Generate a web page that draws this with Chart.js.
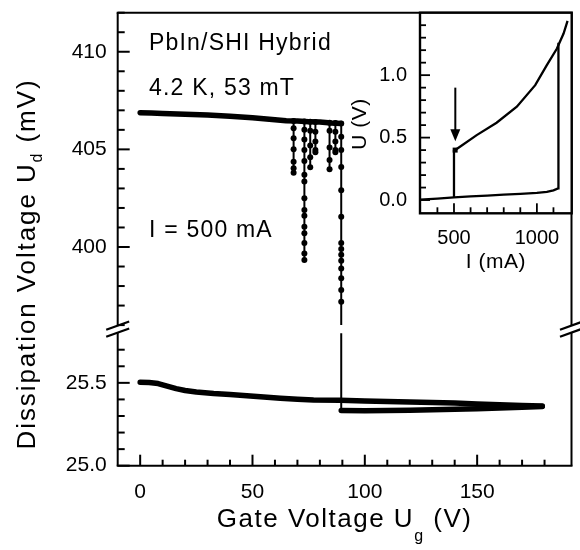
<!DOCTYPE html>
<html><head><meta charset="utf-8">
<script src="https://cdn.jsdelivr.net/npm/chart.js@4.4.0/dist/chart.umd.min.js"></script>
<style>
html,body{margin:0;padding:0;background:#fff;}
#wrap{position:relative;width:580px;height:550px;overflow:hidden;}
#main{position:absolute;left:0;top:0;}
#inset{position:absolute;left:340px;top:0;}
</style></head><body>
<div id="wrap"><canvas id="main" width="580" height="550"></canvas><canvas id="inset" width="240" height="280"></canvas></div>
<script>
const FONT = "'Liberation Sans', Arial, Helvetica, sans-serif";
Chart.defaults.font.family = FONT;
Chart.defaults.color = '#000';

// ---------- main panel: ticks ----------
const gateTicks = [0,10,20,30,40,50,60,70,80,90,100,110,120,130,140,150,160,170,180];
const gateLabels = [0,50,100,150];
const upperTicks = [396,397,398,399,400,401,402,403,404,405,406,407,408,409,410,411,412];
const upperLabels = [400,405,410];
const lowerTicks = [25.0,25.1,25.2,25.3,25.4,25.5,25.6,25.7];
const lowerLabels = [25.0,25.5];

// ---------- main panel: data (Ud in mV vs Ug in V) ----------
const baseX = [0, 5, 10, 20, 30, 40, 50, 60, 65, 70, 75, 80, 85, 89.5];
const baseU = [406.88, 406.86, 406.84, 406.80, 406.76, 406.70, 406.62, 406.52, 406.47, 406.45, 406.42, 406.40, 406.35, 406.33];
const dipX = [68.3, 73.1, 75.7, 78.0, 84.3, 86.9, 89.5];
const dipU = [
  [406.45, 406.08, 405.57, 405.0, 404.37, 404.03, 403.8],
  [406.43, 406.0, 405.5, 404.97, 404.4, 403.7, 403.35, 402.5, 401.9, 401.6, 401.04, 400.7, 400.2, 399.67, 399.33],
  [406.42, 405.95, 405.2, 404.6, 404.08],
  [406.4, 405.9, 405.4, 404.97, 404.85],
  [406.36, 405.95, 405.1, 404.45, 403.98],
  [406.35, 405.9, 405.4, 404.97, 404.85],
  [406.33, 405.65, 404.97, 404.1, 402.9, 401.55, 400.2, 399.9, 399.6, 399.3, 398.9, 398.4, 397.8, 397.2]
];
const dropTailX = [89.5, 89.5];
const dropTailU = [397.2, 396.0];
const jumpX = [89.5, 89.5];
const jumpU = [25.80, 25.333];
const lowUpX = [0, 4, 8, 12, 16, 20, 25, 32.7, 40, 47.5, 55, 62.4, 70, 77.2, 89, 100, 110, 120, 130, 140, 150, 160, 170, 179];
const lowUpU = [25.503, 25.502, 25.496, 25.48, 25.465, 25.454, 25.445, 25.436, 25.43, 25.422, 25.414, 25.407, 25.401, 25.397, 25.395, 25.39, 25.387, 25.385, 25.382, 25.378, 25.373, 25.368, 25.364, 25.36];
const lowDownX = [89.5, 100, 110, 120, 130, 140, 150, 160, 170, 179];
const lowDownU = [25.333, 25.332, 25.333, 25.335, 25.337, 25.34, 25.343, 25.348, 25.353, 25.358];

// ---------- inset: I-V curve ----------
const insetITicks = [400,500,600,700,800,900,1000,1100];
const insetILabels = [500,1000];
const insetUTicks = [0.0,0.1,0.2,0.3,0.4,0.5,0.6,0.7,0.8,0.9,1.0,1.1,1.2,1.3,1.4];
const insetULabels = [0.0,0.5,1.0];
const ivLowI = [295, 400, 500, 600, 700, 800, 900, 1000, 1060, 1100, 1128, 1130];
const ivLowU = [0.004, 0.012, 0.021, 0.029, 0.036, 0.043, 0.05, 0.058, 0.066, 0.078, 0.093, 1.26];
const ivUpI = [500, 500, 512, 536, 637, 757, 879, 990, 1060, 1121, 1161, 1185];
const ivUpU = [0.021, 0.395, 0.405, 0.427, 0.52, 0.619, 0.747, 0.92, 1.08, 1.213, 1.333, 1.434];
const markerPt = [507, 0.40];
const arrowI = 508, arrowFrom = 0.90, arrowTo = 0.47;

// ---------- helpers ----------
const pts = (xs, ys) => xs.map((x, i) => ({x, y: ys[i]}));
const near = (arr, v) => arr.some(q => Math.abs(q - v) < 1e-6);
function setTicks(list){ return s => { s.ticks = list.map(v => ({value: v})); }; }
function fitFix(w, h){ return s => { if (w !== null) s.width = w; if (h !== null) s.height = h; s.paddingTop = 0; s.paddingBottom = 0; s.paddingLeft = 0; s.paddingRight = 0; }; }
function seg(ctx, x1, y1, x2, y2){ ctx.beginPath(); ctx.moveTo(x1, y1); ctx.lineTo(x2, y2); ctx.stroke(); }
function drawParts(ctx, parts, x, y, align, spacing){
  ctx.save();
  try { ctx.letterSpacing = spacing + 'px'; } catch(e) {}
  const ws = parts.map(p => { ctx.font = p[1] + 'px ' + FONT; return ctx.measureText(p[0]).width; });
  const total = ws.reduce((s, b) => s + b, 0);
  let cx = align === 'center' ? x - total / 2 : x;
  ctx.textAlign = 'left'; ctx.textBaseline = 'alphabetic'; ctx.fillStyle = '#000';
  parts.forEach((p, i) => { ctx.font = p[1] + 'px ' + FONT; ctx.fillText(p[0], cx, y + (p[2] || 0)); cx += ws[i]; });
  ctx.restore();
}

const dipPts = [];
dipX.forEach((x, i) => { dipU[i].forEach(u => dipPts.push({x, y: u})); dipPts.push({x, y: null}); });

const thick = {borderColor:'#000', borderWidth:5.5, pointRadius:0, borderCapStyle:'round', borderJoinStyle:'round', tension:0};
const thin = {borderColor:'#000', borderWidth:2, pointRadius:0, tension:0};

const mainDeco = {
  id: 'mainDeco',
  afterDraw(chart){
    const ctx = chart.ctx, A = chart.chartArea, sc = chart.scales;
    const yT = sc.yTop, yL = sc.yLow, xs = sc.x;
    const mid = (yT.getPixelForValue(396) + yL.getPixelForValue(25.8)) / 2;
    ctx.save();
    ctx.strokeStyle = '#000'; ctx.lineCap = 'butt'; ctx.lineWidth = 2;
    seg(ctx, A.left - 1, A.top, A.right + 1, A.top);
    seg(ctx, A.left - 1, A.bottom, A.right + 1, A.bottom);
    for (const xx of [A.left, A.right]) { seg(ctx, xx, A.top, xx, mid - 3.5); seg(ctx, xx, mid + 3.5, xx, A.bottom); }
    for (const v of upperTicks) { const p = yT.getPixelForValue(v); const L = near(upperLabels, v) ? 12 : 7; seg(ctx, A.left, p, A.left + L, p); }
    for (const v of lowerTicks) { const p = yL.getPixelForValue(v); const L = near(lowerLabels, v) ? 12 : 7; seg(ctx, A.left, p, A.left + L, p); }
    for (const v of gateTicks) { const p = xs.getPixelForValue(v); const L = near(gateLabels, v) ? 11 : 6; seg(ctx, p, A.bottom, p, A.bottom - L); }
    ctx.lineWidth = 2.3;
    for (const xx of [A.left, A.right]) for (const d of [-3.5, 3.5]) seg(ctx, xx - 11.5, mid + d + 4.15, xx + 11.5, mid + d - 4.15);
    ctx.restore();
    drawParts(ctx, [['PbIn/SHI Hybrid', 23]], 149, 50, 'left', 1.2);
    drawParts(ctx, [['4.2 K, 53 mT', 23]], 149, 95, 'left', 1.2);
    drawParts(ctx, [['I = 500 mA', 23]], 149, 237, 'left', 1.2);
    drawParts(ctx, [['Gate Voltage U', 26], ['g', 16, 14], [' (V)', 26]], (A.left + A.right) / 2, 527, 'center', 1.5);
    ctx.save();
    ctx.translate(35, 264);
    ctx.rotate(-Math.PI / 2);
    drawParts(ctx, [['Dissipation Voltage U', 26], ['d', 16, 7], [' (mV)', 26]], 0, 0, 'center', 1.9);
    ctx.restore();
  }
};

new Chart(document.getElementById('main'), {
  type: 'line',
  data: { datasets: [
    Object.assign({data: pts(baseX, baseU), yAxisID: 'yTop'}, thick),
    {data: dipPts, yAxisID: 'yTop', borderColor:'#000', borderWidth:2, pointRadius:3, pointBackgroundColor:'#000', pointBorderWidth:0, spanGaps:false, tension:0},
    Object.assign({data: pts(dropTailX, dropTailU), yAxisID: 'yTop'}, thin),
    Object.assign({data: pts(lowUpX, lowUpU), yAxisID: 'yLow'}, thick),
    Object.assign({data: pts(lowDownX, lowDownU), yAxisID: 'yLow'}, thick),
    Object.assign({data: pts(jumpX, jumpU), yAxisID: 'yLow'}, thin)
  ]},
  options: {
    responsive: false, animation: false, events: [],
    layout: { padding: {left: 0, right: 8.5, top: 12.7, bottom: 0} },
    plugins: { legend: {display: false}, tooltip: {enabled: false} },
    scales: {
      x: { type: 'linear', position: 'bottom', min: -10, max: 192,
        grid: {display: false, drawTicks: false, tickLength: 0}, border: {display: false},
        afterBuildTicks: setTicks(gateTicks), afterFit: fitFix(null, 84.3),
        ticks: { autoSkip: false, maxRotation: 0, padding: 14, font: {size: 21},
          callback: v => near(gateLabels, v) ? String(v) : '' } },
      yLow: { type: 'linear', position: 'left', stack: 'ud', stackWeight: 136.7, min: 25.0, max: 25.825,
        grid: {display: false, drawTicks: false, tickLength: 0}, border: {display: false},
        afterBuildTicks: setTicks(lowerTicks), afterFit: fitFix(117.7, null),
        ticks: { autoSkip: false, padding: 11, font: {size: 21},
          callback: v => near(lowerLabels, v) ? Number(v).toFixed(1) : '' } },
      yTop: { type: 'linear', position: 'left', stack: 'ud', stackWeight: 316.3, min: 395.8, max: 412,
        grid: {display: false, drawTicks: false, tickLength: 0}, border: {display: false},
        afterBuildTicks: setTicks(upperTicks), afterFit: fitFix(117.7, null),
        ticks: { autoSkip: false, padding: 11, font: {size: 21},
          callback: v => near(upperLabels, v) ? String(v) : '' } }
    }
  },
  plugins: [mainDeco]
});

const insetDeco = {
  id: 'insetDeco',
  beforeDatasetsDraw(chart){
    const ctx = chart.ctx, A = chart.chartArea;
    ctx.save(); ctx.fillStyle = '#fff'; ctx.fillRect(A.left, A.top, A.right - A.left, A.bottom - A.top); ctx.restore();
  },
  afterDraw(chart){
    const ctx = chart.ctx, A = chart.chartArea, xs = chart.scales.x, ys = chart.scales.y;
    ctx.save();
    ctx.strokeStyle = '#000'; ctx.lineWidth = 2.4;
    ctx.strokeRect(A.left, A.top, A.right - A.left, A.bottom - A.top);
    ctx.lineWidth = 1.8;
    for (const v of insetUTicks) { const p = ys.getPixelForValue(v); seg(ctx, A.left, p, A.left + (near(insetULabels, v) ? 10 : 6), p); }
    for (const v of insetITicks) { const p = xs.getPixelForValue(v); seg(ctx, p, A.bottom, p, A.bottom - (near(insetILabels, v) ? 10 : 6)); }
    const ax = xs.getPixelForValue(arrowI), y1 = ys.getPixelForValue(arrowFrom), y2 = ys.getPixelForValue(arrowTo);
    ctx.lineWidth = 2;
    seg(ctx, ax, y1, ax, y2 - 10);
    ctx.fillStyle = '#000';
    ctx.beginPath(); ctx.moveTo(ax - 5, y2 - 12); ctx.lineTo(ax + 5, y2 - 12); ctx.lineTo(ax, y2); ctx.closePath(); ctx.fill();
    const mx = xs.getPixelForValue(markerPt[0]), my = ys.getPixelForValue(markerPt[1]);
    ctx.fillRect(mx - 2.5, my - 2.5, 5, 5);
    ctx.restore();
    drawParts(ctx, [['I (mA)', 21]], (A.left + A.right) / 2, 268, 'center', 0.5);
    ctx.save();
    ctx.translate(26, 124); ctx.rotate(-Math.PI / 2);
    drawParts(ctx, [['U (V)', 21]], 0, 0, 'center', 0.5);
    ctx.restore();
  }
};

new Chart(document.getElementById('inset'), {
  type: 'line',
  data: { datasets: [
    {data: pts(ivLowI, ivLowU), borderColor:'#000', borderWidth:2.3, pointRadius:0, tension:0},
    {data: pts(ivUpI, ivUpU), borderColor:'#000', borderWidth:2.3, pointRadius:0, tension:0}
  ]},
  options: {
    responsive: false, animation: false, events: [],
    layout: { padding: {left: 0, right: 8.3, top: 12.7, bottom: 0} },
    plugins: { legend: {display: false}, tooltip: {enabled: false} },
    scales: {
      x: { type: 'linear', min: 295, max: 1210,
        grid: {display: false, drawTicks: false, tickLength: 0}, border: {display: false},
        afterBuildTicks: setTicks(insetITicks), afterFit: fitFix(null, 66.7),
        ticks: { autoSkip: false, maxRotation: 0, padding: 13, font: {size: 20},
          callback: v => near(insetILabels, v) ? String(v) : '' } },
      y: { type: 'linear', min: -0.106, max: 1.5,
        grid: {display: false, drawTicks: false, tickLength: 0}, border: {display: false},
        afterBuildTicks: setTicks(insetUTicks), afterFit: fitFix(80, null),
        ticks: { autoSkip: false, padding: 13, font: {size: 20},
          callback: v => near(insetULabels, v) ? Number(v).toFixed(1) : '' } }
    }
  },
  plugins: [insetDeco]
});
</script></body></html>
